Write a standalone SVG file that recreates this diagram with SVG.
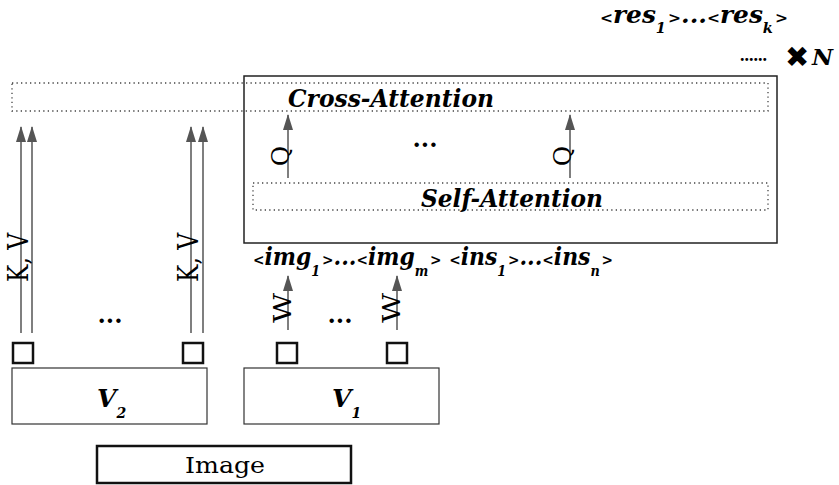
<svg xmlns="http://www.w3.org/2000/svg" width="839" height="485" viewBox="0 0 839 485">
<style>
.bi{font-family:"DejaVu Serif","Liberation Serif",serif;font-weight:bold;font-style:italic;fill:#000}
.rg{font-family:"DejaVu Serif","Liberation Serif",serif;fill:#000}
.dots{font-family:"DejaVu Serif","Liberation Serif",serif;font-weight:bold;font-size:24px;fill:#000;text-anchor:middle}
.dotted{fill:none;stroke:#444;stroke-width:1.3;stroke-dasharray:1.3 3.2}
.sq{fill:none;stroke:#111;stroke-width:2.5}
.vbox{fill:#fff;stroke:#333;stroke-width:1.2}
.arr{stroke:#555;stroke-width:1.5;fill:none}
.sub{font-size:14px}
.ang{font-size:15px}
</style>
<defs>
<marker id="ah" viewBox="0 0 16 10" refX="15" refY="5" markerWidth="16" markerHeight="10" markerUnits="userSpaceOnUse" orient="auto">
<path d="M0,0 L16,5 L0,10 z" fill="#555"/>
</marker>
</defs>

<g id="results">
<text class="bi" x="600" y="23" font-size="24" textLength="188" lengthAdjust="spacingAndGlyphs"><tspan class="ang">&lt;</tspan>res<tspan class="sub" dy="10">1</tspan><tspan class="ang" dx="2" dy="-10">&gt;</tspan>...<tspan class="ang">&lt;</tspan>res<tspan class="sub" dy="10">k</tspan><tspan class="ang" dx="2" dy="-10">&gt;</tspan></text>
</g>

<g id="repeat-n">
<text x="740" y="61" font-family="Liberation Serif, serif" font-weight="bold" font-size="18" textLength="27" lengthAdjust="spacingAndGlyphs">......</text>
<text x="785" y="67" font-family="DejaVu Sans, sans-serif" font-size="29">✖</text>
<text class="bi" x="812" y="65" font-size="23">N</text>
</g>

<g id="decoder-block">
<rect x="244" y="76" width="533" height="167" fill="none" stroke="#222" stroke-width="1.5"/>
<text class="dots" x="425" y="147">...</text>
</g>

<g id="cross-attention">
<rect class="dotted" x="12" y="83" width="756" height="28"/>
<text class="bi" x="288" y="107" font-size="24" textLength="206" lengthAdjust="spacingAndGlyphs">Cross-Attention</text>
</g>

<g id="self-attention">
<rect class="dotted" x="253" y="183" width="515" height="27"/>
<text class="bi" x="421" y="207" font-size="24" textLength="182" lengthAdjust="spacingAndGlyphs">Self-Attention</text>
</g>

<g id="tokens">
<text class="bi" x="253" y="265" font-size="24" textLength="360" lengthAdjust="spacingAndGlyphs"><tspan class="ang">&lt;</tspan>img<tspan class="sub" dy="11">1</tspan><tspan class="ang" dx="2" dy="-11">&gt;</tspan>...<tspan class="ang">&lt;</tspan>img<tspan class="sub" dy="11">m</tspan><tspan class="ang" dx="2" dy="-11">&gt;</tspan> <tspan class="ang">&lt;</tspan>ins<tspan class="sub" dy="11">1</tspan><tspan class="ang" dx="2" dy="-11">&gt;</tspan>...<tspan class="ang">&lt;</tspan>ins<tspan class="sub" dy="11">n</tspan><tspan class="ang" dx="2" dy="-11">&gt;</tspan></text>
</g>

<g id="connectors">
<line class="arr" x1="21" y1="333" x2="21" y2="127" marker-end="url(#ah)"/>
<line class="arr" x1="32" y1="333" x2="32" y2="127" marker-end="url(#ah)"/>
<line class="arr" x1="191" y1="333" x2="191" y2="127" marker-end="url(#ah)"/>
<line class="arr" x1="203" y1="333" x2="203" y2="127" marker-end="url(#ah)"/>
<line class="arr" x1="288" y1="330" x2="288" y2="276" marker-end="url(#ah)"/>
<line class="arr" x1="397" y1="330" x2="397" y2="276" marker-end="url(#ah)"/>
<line class="arr" x1="288" y1="178" x2="288" y2="115" marker-end="url(#ah)"/>
<line class="arr" x1="570" y1="178" x2="570" y2="115" marker-end="url(#ah)"/>
<text class="rg" transform="translate(28,257.5) rotate(-90)" font-size="27" text-anchor="middle" textLength="49" lengthAdjust="spacingAndGlyphs">K, V</text>
<text class="rg" transform="translate(198,257.5) rotate(-90)" font-size="27" text-anchor="middle" textLength="49" lengthAdjust="spacingAndGlyphs">K, V</text>
<text class="rg" transform="translate(291,308) rotate(-90)" font-size="25" text-anchor="middle" textLength="30" lengthAdjust="spacingAndGlyphs">W</text>
<text class="rg" transform="translate(400,308) rotate(-90)" font-size="25" text-anchor="middle" textLength="30" lengthAdjust="spacingAndGlyphs">W</text>
<text class="rg" transform="translate(289,156) rotate(-90)" font-size="25" text-anchor="middle">Q</text>
<text class="rg" transform="translate(571,156) rotate(-90)" font-size="25" text-anchor="middle">Q</text>
</g>

<g id="v2-tokens">
<rect class="sq" x="13" y="343" width="20" height="20"/>
<rect class="sq" x="183" y="343" width="20" height="20"/>
<text class="dots" x="110" y="323">...</text>
</g>

<g id="v1-tokens">
<rect class="sq" x="277" y="343" width="20" height="20"/>
<rect class="sq" x="387" y="343" width="20" height="20"/>
<text class="dots" x="340" y="323">...</text>
</g>

<g id="v2">
<rect class="vbox" x="12" y="368" width="195" height="56"/>
<text class="bi" x="97" y="407" font-size="25">V<tspan class="sub" dy="11">2</tspan></text>
</g>

<g id="v1">
<rect class="vbox" x="244" y="368" width="195" height="56"/>
<text class="bi" x="332" y="407" font-size="25">V<tspan class="sub" dy="11">1</tspan></text>
</g>

<g id="image">
<rect x="97" y="446" width="254" height="37" fill="#fff" stroke="#111" stroke-width="2.5"/>
<text class="rg" x="225" y="473" font-size="23" text-anchor="middle" textLength="80" lengthAdjust="spacingAndGlyphs">Image</text>
</g>
</svg>
